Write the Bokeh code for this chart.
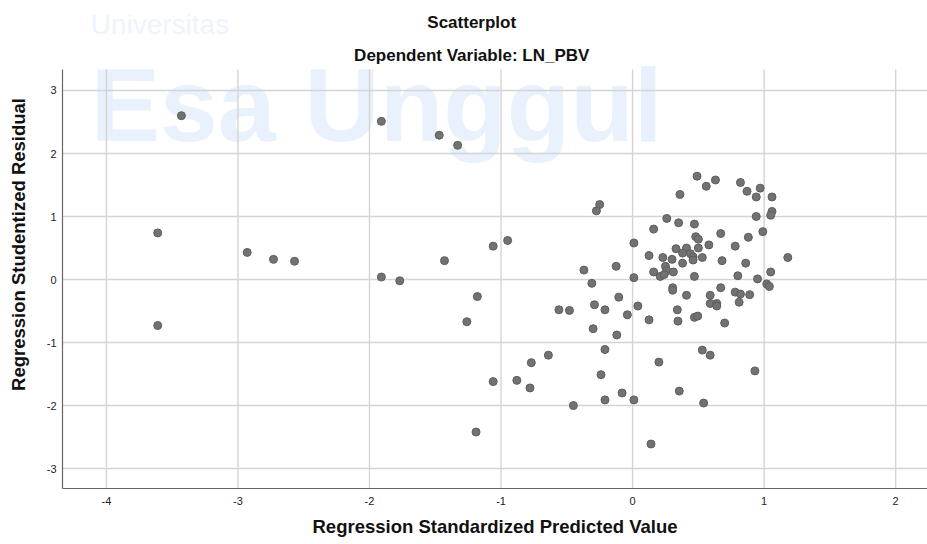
from bokeh.plotting import figure
from bokeh.models import Label, FixedTicker, Range1d, ColumnDataSource
from bokeh.embed import file_html
from bokeh.resources import INLINE

# Regression Standardized Predicted Value
pred = [
    -3.43, -3.61, -3.61, -2.93, -2.73, -2.57,
    -1.91, -1.47, -1.33,
    -0.25, -0.275, -1.06, -0.95, -1.43, -1.91, -1.77, -1.18, -1.26,
    -0.37, -0.125, -0.31, -0.105, -0.29, -0.21, -0.04, -0.56, -0.48,
    -0.30, -0.12, -0.21, -0.64, -0.77, -1.06, -0.88, -0.78,
    -0.24, -0.45, -0.21, -0.08, -1.19,
    0.49, 0.63, 0.56, 0.36, 0.82, 0.97, 0.87, 0.94, 1.06, 1.06,
    1.05, 0.94, 0.26, 0.35, 0.47, 0.16, 0.99, 0.67, 0.88, 0.48,
    0.50, 0.01, 0.58, 0.78, 0.33, 0.41, 0.50, 0.38, 0.44, 0.125,
    0.23, 0.30, 0.46, 0.53, 0.46, 0.68, 1.18, 0.38, 0.25, 0.86,
    0.16, 0.26, 0.31, 0.21, 0.24, 1.05, 0.01, 0.47, 0.80, 0.95,
    1.02, 1.04, 0.305, 0.305, 0.67, 0.78, 0.82, 0.89, 0.41, 0.59,
    0.59, 0.64, 0.64, 0.81, 0.04, 0.34, 0.125, 0.345, 0.47, 0.495,
    0.70, 0.53, 0.59,
    0.20, 0.93, 0.355, 0.01, 0.54, 0.14,
]

# Regression Studentized Residual
resid = [
    2.60, 0.74, -0.73, 0.43, 0.32, 0.29,
    2.51, 2.29, 2.13,
    1.19, 1.09, 0.53, 0.62, 0.30, 0.04, -0.02, -0.27, -0.67,
    0.15, 0.21, -0.06, -0.28, -0.40, -0.48, -0.56, -0.48, -0.49,
    -0.78, -0.88, -1.11, -1.20, -1.32, -1.62, -1.60, -1.72,
    -1.51, -2.00, -1.91, -1.80, -2.42,
    1.64, 1.58, 1.48, 1.35, 1.54, 1.45, 1.40, 1.31, 1.31, 1.08,
    1.02, 1.00, 0.97, 0.90, 0.88, 0.80, 0.76, 0.73, 0.67, 0.68,
    0.64, 0.58, 0.55, 0.53, 0.49, 0.50, 0.50, 0.42, 0.41, 0.38,
    0.35, 0.32, 0.36, 0.35, 0.31, 0.30, 0.35, 0.26, 0.21, 0.26,
    0.12, 0.14, 0.12, 0.05, 0.08, 0.12, 0.03, 0.05, 0.06, 0.01,
    -0.07, -0.11, -0.13, -0.17, -0.13, -0.20, -0.23, -0.24, -0.25, -0.25,
    -0.38, -0.38, -0.42, -0.36, -0.42, -0.48, -0.64, -0.66, -0.60, -0.58,
    -0.69, -1.12, -1.20,
    -1.31, -1.45, -1.77, -1.91, -1.96, -2.61,
]

x_ticks = [-4, -3, -2, -1, 0, 1, 2]
x_tick_labels = ["-4", "-3", "-2", "-1", "0", "1", "2"]
y_ticks = [-3, -2, -1, 0, 1, 2, 3]
y_tick_labels = ["-3", "-2", "-1", "0", "1", "2", "3"]

title_text = "Scatterplot"
subtitle_text = "Dependent Variable: LN_PBV"
x_label = "Regression Standardized Predicted Value"
y_label = "Regression Studentized Residual"

FONT = "Liberation Sans"
GRID = "#d4d4d4"

# plotted value extent of the chart area (axes end here)
x_lo, x_hi = -4.334, 2.242
y_lo, y_hi = -3.316, 3.334
# the frame also covers the heading band above the axes
y_page_top = 4.428

p = figure(width=927, height=544, output_backend="svg", toolbar_location=None,
           title=None,
           x_range=Range1d(x_lo, x_hi), y_range=Range1d(y_lo, y_page_top),
           min_border_left=62, min_border_right=0, min_border_top=0,
           min_border_bottom=56)
p.outline_line_color = None
p.background_fill_color = "white"
p.border_fill_color = "white"

# watermark (background of the reference image)
wm_color = "#e9f1fc"
p.add_layout(Label(x=-4.12, y=2.763, text="Esa Unggul", text_font=FONT,
                   text_font_size="104px", text_font_style="bold",
                   text_color=wm_color, text_baseline="alphabetic",
                   level="image"))
p.add_layout(Label(x=-4.12, y=4.05, text="Universitas", text_font=FONT,
                   text_font_size="28px", text_color="#eef4fd",
                   text_baseline="alphabetic", level="image"))

# vertical grid lines limited to the axes' extent
n = len(x_ticks)
p.segment(x0=x_ticks, y0=[y_lo] * n, x1=x_ticks, y1=[y_hi] * n,
          line_color=GRID, line_width=1.4, level="underlay")
p.xgrid.visible = False
p.ygrid.grid_line_color = GRID
p.ygrid.grid_line_width = 1.4

src = ColumnDataSource(dict(x=pred, y=resid))
p.scatter("x", "y", source=src, size=8, fill_color="#727272",
          line_color="#5e5e5e", line_width=1)

for ax in (p.xaxis, p.yaxis):
    ax.major_tick_line_color = None
    ax.minor_tick_line_color = None
    ax.major_tick_out = 0
    ax.major_tick_in = 0
    ax.minor_tick_out = 0
    ax.minor_tick_in = 0
    ax.axis_line_color = "#666666"
    ax.axis_line_width = 1.2
    ax.major_label_text_font = FONT
    ax.major_label_text_font_size = "11px"
    ax.major_label_text_color = "#222222"
    ax.axis_label_text_font = FONT
    ax.axis_label_text_font_size = "18.5px"
    ax.axis_label_text_font_style = "bold"
    ax.axis_label_text_color = "#111111"

p.yaxis.bounds = (y_lo, y_hi)
p.xaxis.ticker = FixedTicker(ticks=x_ticks)
p.xaxis.major_label_overrides = dict(zip(x_ticks, x_tick_labels))
p.yaxis.ticker = FixedTicker(ticks=y_ticks)
p.yaxis.major_label_overrides = dict(zip(y_ticks, y_tick_labels))
p.xaxis.axis_label = x_label
p.yaxis.axis_label = y_label
p.xaxis.major_label_standoff = 8
p.xaxis.axis_label_standoff = 8
p.yaxis.major_label_standoff = 6
p.yaxis.axis_label_standoff = 15

# chart titles in the heading band
p.add_layout(Label(x=-1.223, y=4.071, text=title_text, text_font=FONT,
                   text_font_size="17px", text_font_style="bold",
                   text_color="#111111", text_align="center",
                   text_baseline="middle"))
p.add_layout(Label(x=-1.223, y=3.556, text=subtitle_text, text_font=FONT,
                   text_font_size="17px", text_font_style="bold",
                   text_color="#111111", text_align="center",
                   text_baseline="middle"))

open("out.html", "w").write(file_html(p, INLINE))
